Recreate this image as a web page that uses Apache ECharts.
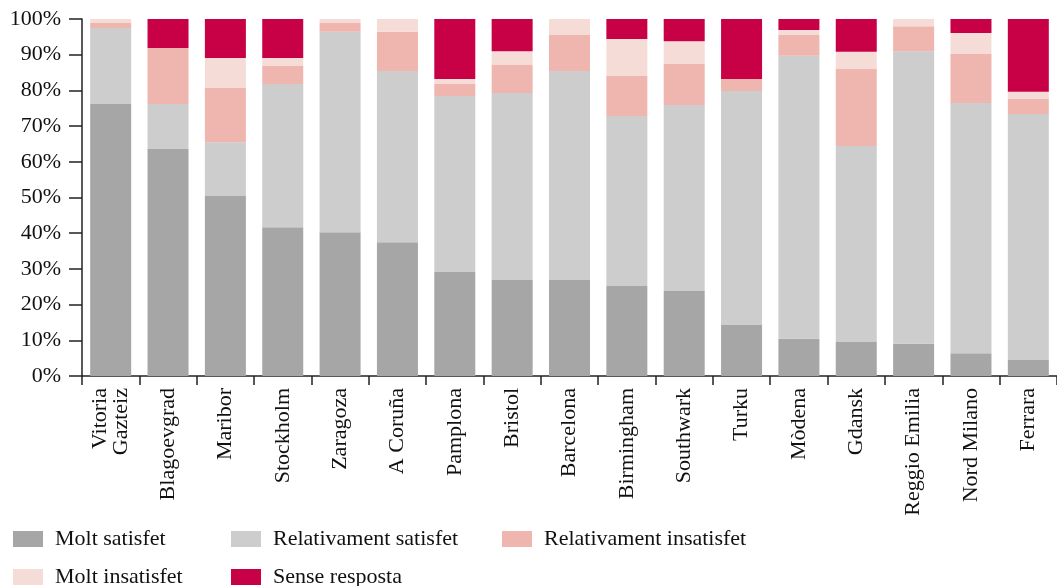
<!DOCTYPE html>
<html>
<head>
<meta charset="utf-8">
<script src="https://cdn.jsdelivr.net/npm/echarts@6/dist/echarts.min.js"></script>
<style>
html,body{margin:0;padding:0;background:#fff;}
#chart{width:1057px;height:586px;}
</style>
</head>
<body>
<div id="chart"></div>
<script>
var categories = ['Vitoria\nGazteiz','Blagoevgrad','Maribor','Stockholm','Zaragoza','A Coruña','Pamplona','Bristol','Barcelona','Birmingham','Southwark','Turku','Mòdena','Gdansk','Reggio Emilia','Nord Milano','Ferrara'];
var seriesNames = ['Molt satisfet','Relativament satisfet','Relativament insatisfet','Molt insatisfet','Sense resposta'];
var moltSatisfet        = [76.2, 63.6, 50.4, 41.7, 40.3, 37.5, 29.1, 26.9, 26.9, 25.2, 23.8, 14.3, 10.4,  9.5,  9.0,  6.4,  4.5];
var relSatisfet         = [21.3, 12.6, 15.1, 40.1, 56.1, 47.9, 49.3, 52.4, 58.5, 47.6, 52.1, 65.5, 79.3, 54.9, 82.0, 70.1, 68.9];
var relInsatisfet       = [ 1.4, 15.7, 15.2,  5.0,  2.5, 11.0,  3.4,  7.8, 10.1, 11.2, 11.5,  3.4,  5.8, 21.6,  7.0, 13.7,  4.2];
var moltInsatisfet      = [ 1.1,  0.0,  8.4,  2.3,  1.1,  3.6,  1.4,  3.9,  4.5, 10.4,  6.4,  0.0,  1.4,  4.8,  2.0,  5.9,  2.0];
var senseResposta       = [ 0.0,  8.1, 10.9, 10.9,  0.0,  0.0, 16.8,  9.0,  0.0,  5.6,  6.2, 16.8,  3.1,  9.2,  0.0,  3.9, 20.4];
var colors = ['#a6a6a6','#cdcdcd','#efb5af','#f6dcd6','#c80046'];
var yTicks = [0,10,20,30,40,50,60,70,80,90,100];

var dataSets = [moltSatisfet, relSatisfet, relInsatisfet, moltInsatisfet, senseResposta];
var FONT = '"Liberation Serif", "Times New Roman", serif';

var series = seriesNames.map(function(n, i){
  return {
    name: n, type: 'bar', stack: 'total', data: dataSets[i],
    barWidth: 41,
    itemStyle: {color: colors[i]},
    emphasis: {disabled: true}
  };
});

function legendItem(name, left, top){
  return {
    data: [{name: name}],
    orient: 'horizontal', left: left, top: top, padding: 0,
    icon: 'rect', itemWidth: 30, itemHeight: 16,
    selectedMode: false,
    textStyle: {fontFamily: FONT, fontSize: 22, color: '#111', lineHeight: 24, padding: [0,0,0,7]}
  };
}

var chart = echarts.init(document.getElementById('chart'), null, {renderer: 'canvas'});
chart.setOption({
  animation: false,
  color: colors,
  grid: {left: 82, right: 0, top: 19, bottom: 210, containLabel: false},
  legend: [
    legendItem('Molt satisfet', 13, 527),
    legendItem('Relativament satisfet', 231, 527),
    legendItem('Relativament insatisfet', 502, 527),
    legendItem('Molt insatisfet', 13, 565),
    legendItem('Sense resposta', 231, 565)
  ],
  xAxis: {
    type: 'category', data: categories,
    axisLine: {lineStyle: {color: '#222', width: 1.5}},
    axisTick: {show: true, length: 9, lineStyle: {color: '#222', width: 1.5}},
    axisLabel: {rotate: 90, interval: 0, margin: 12, fontFamily: FONT, fontSize: 22, color: '#111', lineHeight: 21}
  },
  yAxis: {
    type: 'value', min: 0, max: 100, interval: 10,
    splitLine: {show: false},
    axisLine: {show: true, lineStyle: {color: '#222', width: 1.5}},
    axisTick: {show: true, length: 13, lineStyle: {color: '#222', width: 1.5}},
    axisLabel: {margin: 21, fontFamily: FONT, fontSize: 22, color: '#111',
      formatter: function(v){ return yTicks.indexOf(v) >= 0 ? v + '%' : ''; }}
  },
  series: series
});
</script>
</body>
</html>
